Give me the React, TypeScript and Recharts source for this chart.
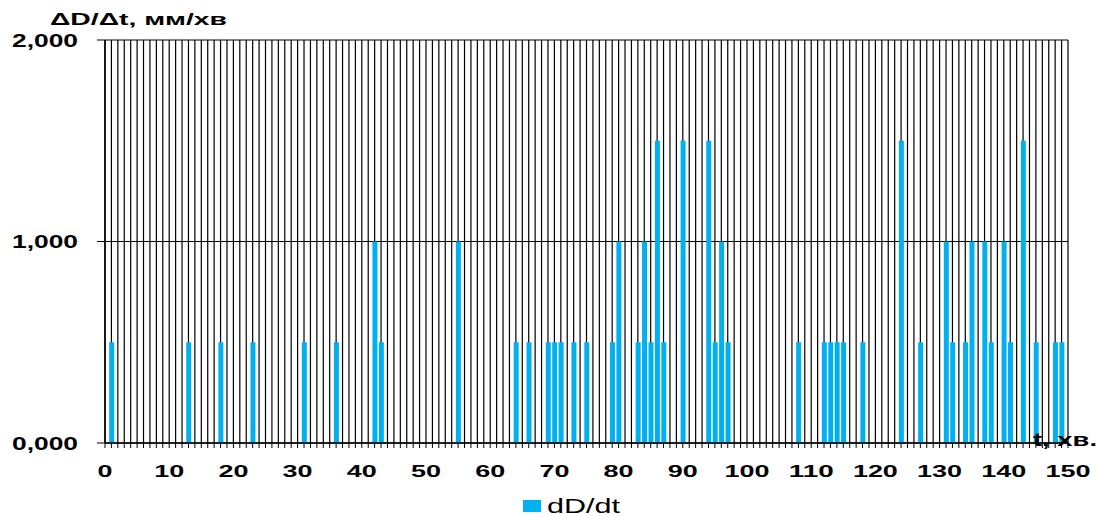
import React from 'react';
import { BarChart, Bar, XAxis, YAxis, CartesianGrid, Legend, Label } from 'recharts';

// time, minutes
const TIMES = [
  1, 13, 18, 23, 31, 36, 42, 43, 55, 64, 66, 69, 70, 71, 73, 75,
  79, 80, 83, 84, 85, 86, 87, 90, 94, 95, 96, 97, 108, 112, 113, 114,
  115, 118, 124, 127, 131, 132, 134, 135, 137, 138, 140, 141, 143, 145, 148, 149,
];
// dD/dt, mm/min
const RATES = [
  500, 500, 500, 500, 500, 500, 1000, 500, 1000, 500, 500, 500, 500, 500, 500, 500,
  500, 1000, 500, 1000, 500, 1500, 500, 1500, 1500, 500, 1000, 500, 500, 500, 500, 500,
  500, 500, 1500, 500, 1000, 500, 500, 1000, 1000, 500, 1000, 500, 1500, 500, 500, 500,
];
const X_TICKS = Array.from({ length: 151 }, (_, i) => i);
const Y_TICKS = [0, 1000, 2000];

const data = TIMES.map((t, i) => ({ t, rate: RATES[i] }));

const FONT = '"Liberation Sans", Arial, sans-serif';
const BLUE = '#00B0F0';

function fmtY(v: number) {
  return `${Math.floor(v / 1000)},${String(v % 1000).padStart(3, '0')}`;
}

const YTick = ({ x, y, payload }: any) => (
  <text
    x={x} y={y} textAnchor="end" dominantBaseline="central"
    fontFamily={FONT} fontSize={19} fontWeight="bold" fill="#000"
    textLength={66} lengthAdjust="spacingAndGlyphs"
  >
    {fmtY(payload.value)}
  </text>
);

const XTick = ({ x, y, payload }: any) => {
  if (payload.value % 10 !== 0) return <g />;
  const s = String(payload.value);
  return (
    <text
      x={x} y={y + 21} textAnchor="middle" dominantBaseline="central"
      fontFamily={FONT} fontSize={17} fontWeight="bold" fill="#000"
      textLength={15 * s.length} lengthAdjust="spacingAndGlyphs"
    >
      {s}
    </text>
  );
};

const LegendContent = () => (
  <svg width={130} height={28} style={{ overflow: 'visible' }}>
    <rect x={3} y={11} width={18} height={12} fill={BLUE} />
    <text
      x={27} y={24} fontFamily={FONT} fontSize={20} fill="#000"
      textLength={73} lengthAdjust="spacingAndGlyphs"
    >
      dD/dt
    </text>
  </svg>
);

export default function App() {
  return (
    <div style={{ position: 'absolute', left: 0, top: 0, background: '#fff' }}>
      <BarChart
        width={1098} height={517} data={data}
        margin={{ top: 40, right: 30, bottom: 0, left: 0 }}
      >
        <CartesianGrid stroke="#000" strokeWidth={1.2} />
        <XAxis
          dataKey="t" type="number" domain={[0, 150]} ticks={X_TICKS} interval={0}
          height={46} tickSize={5} tickMargin={2}
          axisLine={{ stroke: '#000', strokeWidth: 1.5 }} tickLine={{ stroke: '#000' }}
          tick={<XTick />}
        >
          <Label
            content={({ viewBox }: any) => (
              <text
                x={viewBox.x + viewBox.width - 35} y={viewBox.y + 3}
                fontFamily={FONT} fontSize={19} fontWeight="bold" fill="#000"
                textLength={64} lengthAdjust="spacingAndGlyphs"
              >
                t, хв.
              </text>
            )}
          />
        </XAxis>
        <YAxis
          type="number" domain={[0, 2000]} ticks={Y_TICKS} width={105}
          tickSize={8} tickMargin={19}
          axisLine={{ stroke: '#000', strokeWidth: 1.5 }} tickLine={{ stroke: '#000' }}
          tick={<YTick />}
        >
          <Label
            content={({ viewBox }: any) => (
              <text
                x={viewBox.x + 50} y={viewBox.y - 15}
                fontFamily={FONT} fontSize={17} fontWeight="bold" fill="#000"
                textLength={177} lengthAdjust="spacingAndGlyphs"
              >
                ΔD/Δt, мм/хв
              </text>
            )}
          />
        </YAxis>
        <Legend
          content={<LegendContent />} height={28}
          wrapperStyle={{ left: 520, width: 130 }}
        />
        <Bar dataKey="rate" fill={BLUE} barSize={5} isAnimationActive={false} />
      </BarChart>
    </div>
  );
}
